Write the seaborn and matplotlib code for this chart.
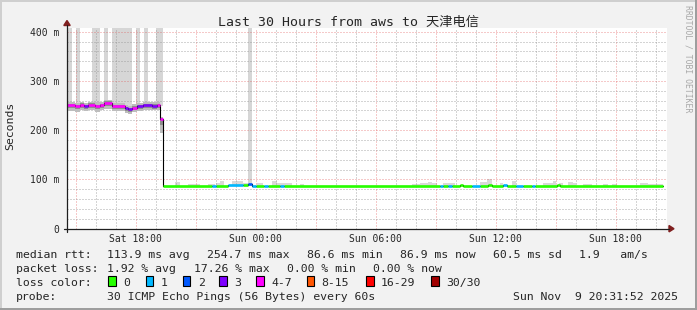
import numpy as np
import pandas as pd
import matplotlib
matplotlib.use("Agg")
import matplotlib.pyplot as plt
from matplotlib.lines import Line2D
from matplotlib.patches import Rectangle, Polygon
import seaborn as sns

# ---------------- data (time in hours relative to Sat 18:00) ----------------
seg_start = [-3.43, -3.03, -2.78, -2.58, -2.38, -2.03, -1.78, -1.58, -1.18, -0.53, -0.38, -0.18,
             0.08, 0.38, 0.83, 1.08, 1.23,
             1.38, 3.83, 4.03, 4.63, 5.38, 5.63, 5.83, 6.03, 6.43, 6.63, 7.23, 7.43,
             15.23, 15.38, 15.63, 15.83, 16.23, 16.38, 16.83, 17.23, 17.63, 17.83, 18.38, 18.58,
             19.03, 19.38, 19.83, 19.98, 21.08, 21.23]
seg_end_last = 26.38
seg_median = [251, 249, 252, 249, 252, 249, 251, 256, 249, 245, 243, 246,
              249, 251, 250, 251, 222,
              86.7, 87.0, 86.7, 88.0, 88.5, 90.0, 87.5, 86.7, 87.0, 86.7, 87.0, 86.7,
              87.0, 86.7, 87.0, 86.7, 88.5, 86.7, 87.0, 86.7, 88.5, 86.7, 88.5, 86.7,
              87.5, 86.7, 87.0, 86.7, 88.5, 86.7]
seg_loss = [4, 4, 4, 3, 4, 4, 4, 4, 4, 3, 3, 4,
            3, 3, 3, 4, 4,
            0, 1, 0, 1, 0, 2, 1, 0, 1, 0, 1, 0,
            1, 0, 1, 0, 0, 0, 1, 0, 0, 0, 1, 0,
            1, 0, 1, 0, 0, 0]

# smoke for the first (high latency) part
smoke_lo = [239, 237, 240, 238, 240, 237, 240, 244, 238, 234, 232, 236, 238, 240, 240, 240, 195]
smoke_hi = [257, 256, 258, 256, 258, 257, 258, 262, 256, 252, 250, 253, 256, 258, 257, 258, 226]
core_lo = [245, 243, 246, 243, 246, 243, 245, 250, 243, 239, 237, 240, 243, 245, 244, 245, 210]
core_hi = [254, 252, 255, 252, 255, 252, 254, 259, 252, 248, 246, 249, 252, 254, 253, 254, 224]

# tall smoke spikes
spike_start = [-3.43, -2.98, -2.18, -1.58, -1.18, 0.03, 0.43, 1.03, 5.63]
spike_end = [-3.18, -2.78, -1.78, -1.38, -0.18, 0.23, 0.63, 1.38, 5.83]
spike_base = [250, 250, 250, 255, 248, 248, 250, 250, 89]

# small smoke patches above the low median line
patch_start = [1.98, 2.63, 3.63, 4.03, 4.23, 4.83, 5.38, 6.08, 6.83, 7.08, 7.23, 8.23,
               13.83, 14.23, 14.63, 14.83, 15.38, 17.23, 17.58, 18.23, 18.83,
               20.38, 20.88, 21.18, 21.63, 21.88, 22.38, 23.38, 23.83, 25.23, 25.63]
patch_end = [2.23, 3.23, 3.98, 4.23, 4.43, 5.38, 5.63, 6.38, 7.08, 7.23, 7.83, 8.43,
             14.23, 14.63, 14.83, 15.08, 15.98, 17.58, 17.83, 18.38, 19.03,
             20.88, 21.03, 21.38, 21.88, 22.03, 22.83, 23.63, 24.08, 25.63, 26.38]
patch_top = [94, 90, 90, 92.5, 97, 97, 93, 93, 97, 93, 92.5, 91,
             90, 92, 95.5, 92, 92.5, 95, 100, 92.5, 97,
             92.5, 96, 92.5, 95, 92, 90, 90, 90, 92.5, 90]

x_min, x_max = -3.425, 26.575
y_max = 407.5
xtick_pos = [0, 6, 12, 18, 24]
xtick_labels = ["Sat 18:00", "Sun 00:00", "Sun 06:00", "Sun 12:00", "Sun 18:00"]
ytick_pos = [0, 100, 200, 300, 400]
ytick_labels = ["0", "100 m", "200 m", "300 m", "400 m"]

loss_labels = ["0", "1", "2", "3", "4-7", "8-15", "16-29", "30/30"]
loss_colors = ["#26ff00", "#00b8ff", "#0059ff", "#7e00ff", "#ff00ff", "#ff5500", "#ff0000", "#a10000"]

title = "Last 30 Hours from aws to 天津电信"
row1 = [(16, "median rtt:"), (107.3, "113.9 ms avg"), (207.3, "254.7 ms max"),
        (307.3, "86.6 ms min"), (400.5, "86.9 ms now"), (493.4, "60.5 ms sd"),
        (579.4, "1.9   am/s")]
row2 = [(16, "packet loss:"), (107.3, "1.92 % avg"), (193.6, "17.26 % max"),
        (286.8, "0.00 % min"), (373.1, "0.00 % now")]
row4 = [(16, "probe:"), (107.3, "30 ICMP Echo Pings (56 Bytes) every 60s"),
        (513.3, "Sun Nov  9 20:31:52 2025")]
box_x = [108.3, 145.7, 182.7, 219.3, 256, 306.7, 366, 431]

# ---------------- style ----------------
sns.set_style("white")
plt.rcParams["font.family"] = ["DejaVu Sans Mono", "Noto Sans CJK SC"]

W, H = 697, 310
fig = plt.figure(figsize=(W / 100, H / 100), dpi=100)
fig.patch.set_facecolor("#f2f2f2")


def fx(px):
    return px / W


def fy(py):
    return 1 - py / H


ax_l, ax_r, ax_b, ax_t = 67, 667, 228.7, 28
ax = fig.add_axes([fx(ax_l), fy(ax_b), (ax_r - ax_l) / W, (ax_b - ax_t) / H])
ax.set_facecolor("white")
ax.set_xlim(x_min, x_max)
ax.set_ylim(0, y_max)
for s in ax.spines.values():
    s.set_visible(False)

# grid
minor_c = (0.56, 0.56, 0.56, 0.75)
major_c = (0.87, 0.31, 0.31, 0.6)
dot = (0, (1, 2))
for h in range(int(np.ceil(x_min)), int(np.floor(x_max)) + 1):
    ax.axvline(h, color=major_c if h % 3 == 0 else minor_c, lw=0.72, ls=dot, zorder=1.5)
for v in range(20, 401, 20):
    ax.axhline(v, color=major_c if v % 100 == 0 else minor_c, lw=0.72, ls=dot, zorder=1.5)

# smoke spikes
sp_s = np.array(spike_start)
sp_e = np.array(spike_end)
sp_b = np.array(spike_base)
ax.bar(sp_s, y_max + 10 - sp_b, bottom=sp_b, width=sp_e - sp_s, align="edge",
       color="#d6d6d6", linewidth=0, zorder=1)

# small smoke patches
p_s = np.array(patch_start)
p_e = np.array(patch_end)
p_t = np.array(patch_top)
ax.bar(p_s, p_t - 86, bottom=86, width=p_e - p_s, align="edge",
       color="#d9d9d9", linewidth=0, zorder=1)

# smoke band in the first part
n_sm = len(smoke_lo)
xs = list(seg_start[:n_sm]) + [seg_start[n_sm]]
ax.fill_between(xs, list(smoke_lo) + [smoke_lo[-1]], list(smoke_hi) + [smoke_hi[-1]],
                step="post", color="#bdbdbd", linewidth=0, zorder=2)
ax.fill_between(xs, list(core_lo) + [core_lo[-1]], list(core_hi) + [core_hi[-1]],
                step="post", color="#8e8e8e", linewidth=0, zorder=2.5)

# median black step line
seg_end = list(seg_start[1:]) + [seg_end_last]
step_df = pd.DataFrame({"t": list(seg_start) + [seg_end_last],
                        "ms": list(seg_median) + [seg_median[-1]]})
sns.lineplot(data=step_df, x="t", y="ms", estimator=None, sort=False,
             drawstyle="steps-post", color="black", lw=0.8, ax=ax, zorder=5)

# median colored by loss
rows = []
for i, (a, b, m, l) in enumerate(zip(seg_start, seg_end, seg_median, seg_loss)):
    rows.append({"t": a, "ms": m, "loss": loss_labels[l], "seg": i})
    rows.append({"t": b, "ms": m, "loss": loss_labels[l], "seg": i})
med_df = pd.DataFrame(rows)
sns.lineplot(data=med_df, x="t", y="ms", hue="loss", units="seg", estimator=None,
             palette=dict(zip(loss_labels, loss_colors)), lw=1.9, legend=False,
             ax=ax, zorder=6, solid_capstyle="butt")

ax.set_xlabel("")
ax.set_ylabel("")
ax.set_xticks(xtick_pos)
ax.set_xticklabels(xtick_labels)
ax.set_yticks(ytick_pos)
ax.set_yticklabels(ytick_labels)
ax.tick_params(axis="x", length=0, pad=3.6, labelsize=7)
ax.tick_params(axis="y", length=0, pad=5.6, labelsize=7)
for t in ax.get_xticklabels() + ax.get_yticklabels():
    t.set_family("DejaVu Sans Mono")

# axis lines and arrows
axis_c = "#1f1f1f"
arrow_c = (0.5, 0.12, 0.12)
fig.add_artist(Line2D([fx(64), fx(669)], [fy(228.7), fy(228.7)], color=axis_c, lw=0.9))
fig.add_artist(Line2D([fx(67), fx(67)], [fy(231.5), fy(25)], color=axis_c, lw=0.9))
fig.add_artist(Polygon([(fx(669), fy(225.5)), (fx(674), fy(228.7)), (fx(669), fy(231.9))],
                       closed=True, color=arrow_c, transform=fig.transFigure))
fig.add_artist(Polygon([(fx(63.8), fy(25.5)), (fx(67), fy(20.5)), (fx(70.2), fy(25.5))],
                       closed=True, color=arrow_c, transform=fig.transFigure))

# frame shading
fig.add_artist(Rectangle((0, fy(2)), 1, 2 / H, transform=fig.transFigure, color="#cfcfcf", lw=0))
fig.add_artist(Rectangle((0, 0), 2 / W, 1, transform=fig.transFigure, color="#cfcfcf", lw=0))
fig.add_artist(Rectangle((0, 0), 1, 2 / H, transform=fig.transFigure, color="#9e9e9e", lw=0))
fig.add_artist(Rectangle((1 - 2 / W, 0), 2 / W, 1, transform=fig.transFigure, color="#9e9e9e", lw=0))

# texts
fig.text(fx(348.5), fy(25.5), title, ha="center", va="baseline", fontsize=9.5,
         family=["DejaVu Sans Mono", "Noto Sans CJK SC"])
fig.text(fx(10.5), fy(126), "Seconds", rotation=90, ha="center", va="center", fontsize=8.25)
fig.text(fx(687.7), fy(59), "RRDTOOL / TOBI OETIKER", rotation=270, ha="center", va="center",
         fontsize=5.9, color="#a8a8a8")

fs = 8.25
for x, s in row1:
    fig.text(fx(x), fy(257.7), s, ha="left", va="baseline", fontsize=fs)
for x, s in row2:
    fig.text(fx(x), fy(271.8), s, ha="left", va="baseline", fontsize=fs)
fig.text(fx(16), fy(285.9), "loss color:", ha="left", va="baseline", fontsize=fs)
for x, lab, col in zip(box_x, loss_labels, loss_colors):
    fig.add_artist(Rectangle((fx(x), fy(286)), 7.5 / W, 10 / H, transform=fig.transFigure,
                             facecolor=col, edgecolor="black", lw=0.8))
    fig.text(fx(x + 15), fy(285.9), lab, ha="left", va="baseline", fontsize=fs)
for x, s in row4:
    fig.text(fx(x), fy(300), s, ha="left", va="baseline", fontsize=fs)

fig.savefig("out.png", dpi=100, facecolor=fig.get_facecolor())
